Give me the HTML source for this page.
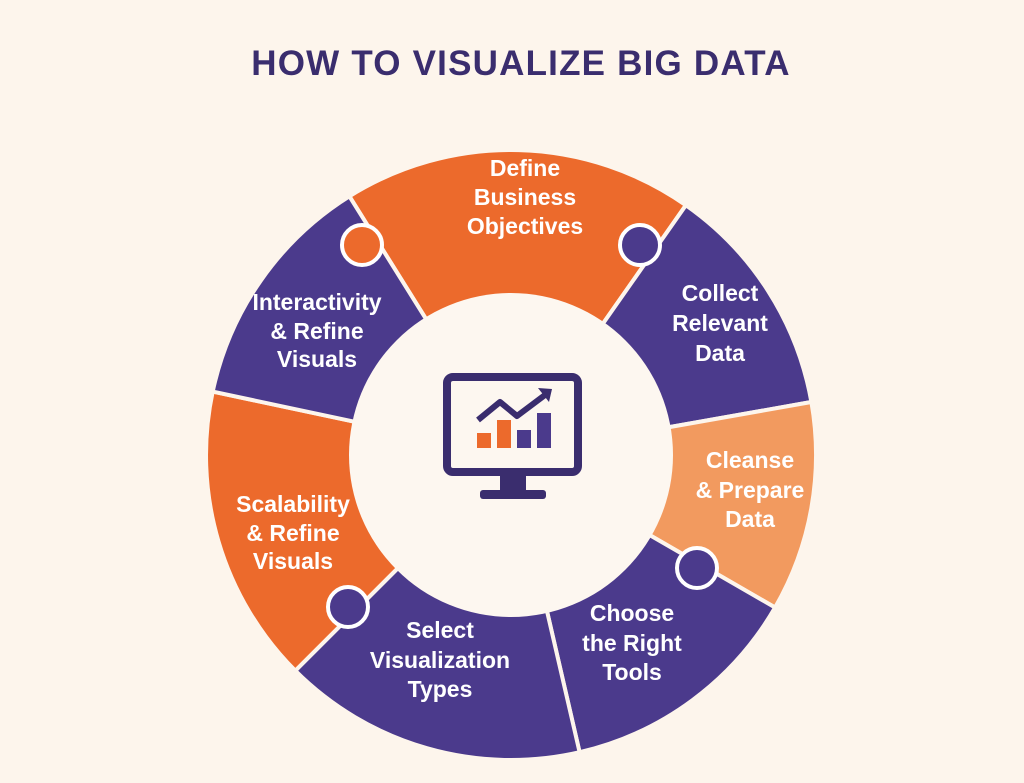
<!DOCTYPE html>
<html><head><meta charset="utf-8"><style>
html,body{margin:0;padding:0;background:#fdf5ec;}
body{width:1024px;height:783px;overflow:hidden;}
svg{display:block}
text{font-family:"Liberation Sans","DejaVu Sans",sans-serif;font-weight:bold;}
</style></head><body>
<svg id="s" width="1024" height="783" viewBox="0 0 1024 783">
<rect width="1024" height="783" fill="#fdf5ec"/>
<text x="521" y="75" text-anchor="middle" font-size="35" letter-spacing="1.2" fill="#3a2d6e">HOW TO VISUALIZE BIG DATA</text>
<g id="segs"></g>
<circle cx="511" cy="455" r="162" fill="#fdf7f0"/>
<g id="dots"></g>
<rect x="447" y="377" width="131" height="95" rx="6" fill="none" stroke="#3a2d6e" stroke-width="8"/>
<rect x="500" y="476" width="26" height="16" fill="#3a2d6e"/>
<rect x="480" y="490" width="66" height="9" rx="3" fill="#3a2d6e"/>
<rect x="477" y="433" width="14" height="15" fill="#ec6a2c"/>
<rect x="497" y="420" width="14" height="28" fill="#ec6a2c"/>
<rect x="517" y="430" width="14" height="18" fill="#4b3a8c"/>
<rect x="537" y="413" width="14" height="35" fill="#4b3a8c"/>
<polyline points="478,420 500,402 517,416 545,395" fill="none" stroke="#3a2d6e" stroke-width="6" stroke-linejoin="round"/>
<polygon points="538,388 552,389 549,402" fill="#3a2d6e"/>
<g font-size="23" fill="#fff" text-anchor="middle">
<text x="525" y="176">Define</text><text x="525" y="205">Business</text><text x="525" y="234">Objectives</text>
<text x="720" y="301">Collect</text><text x="720" y="331">Relevant</text><text x="720" y="361">Data</text>
<text x="750" y="468">Cleanse</text><text x="750" y="498">&amp; Prepare</text><text x="750" y="527">Data</text>
<text x="632" y="621">Choose</text><text x="632" y="651">the Right</text><text x="632" y="680">Tools</text>
<text x="440" y="638">Select</text><text x="440" y="668">Visualization</text><text x="440" y="697">Types</text>
<text x="293" y="512">Scalability</text><text x="293" y="541">&amp; Refine</text><text x="293" y="569">Visuals</text>
<text x="317" y="310">Interactivity</text><text x="317" y="339">&amp; Refine</text><text x="317" y="367">Visuals</text>
</g>
</svg>
<script>
var cx=511,cy=455,R=305,r=150;
function p(a,rad){a=a*Math.PI/180;return [(cx+rad*Math.sin(a)).toFixed(1),(cy-rad*Math.cos(a)).toFixed(1)];}
var segs=[[-32,35,"#ec6a2c"],[35,80,"#4b3a8c"],[80,120,"#f29a5f"],[120,167,"#4b3a8c"],[167,225,"#4b3a8c"],[225,282,"#ec6a2c"],[282,328,"#4b3a8c"]];
var h="";
segs.forEach(function(s){var a=p(s[0],R),b=p(s[1],R),c=p(s[1],r),d=p(s[0],r);
h+='<path d="M'+a+' A'+R+' '+R+' 0 0 1 '+b+' L'+c+' A'+r+' '+r+' 0 0 0 '+d+' Z" fill="'+s[2]+'" stroke="#fdf5ec" stroke-width="4"/>';});
document.getElementById("segs").innerHTML=h;
var dots=[[362,245,"#ec6a2c"],[640,245,"#4b3a8c"],[697,568,"#4b3a8c"],[348,607,"#4b3a8c"]],g="";
dots.forEach(function(d){g+='<circle cx="'+d[0]+'" cy="'+d[1]+'" r="20" fill="'+d[2]+'" stroke="#fff" stroke-width="4"/>';});
document.getElementById("dots").innerHTML=g;
</script>
</body></html>
